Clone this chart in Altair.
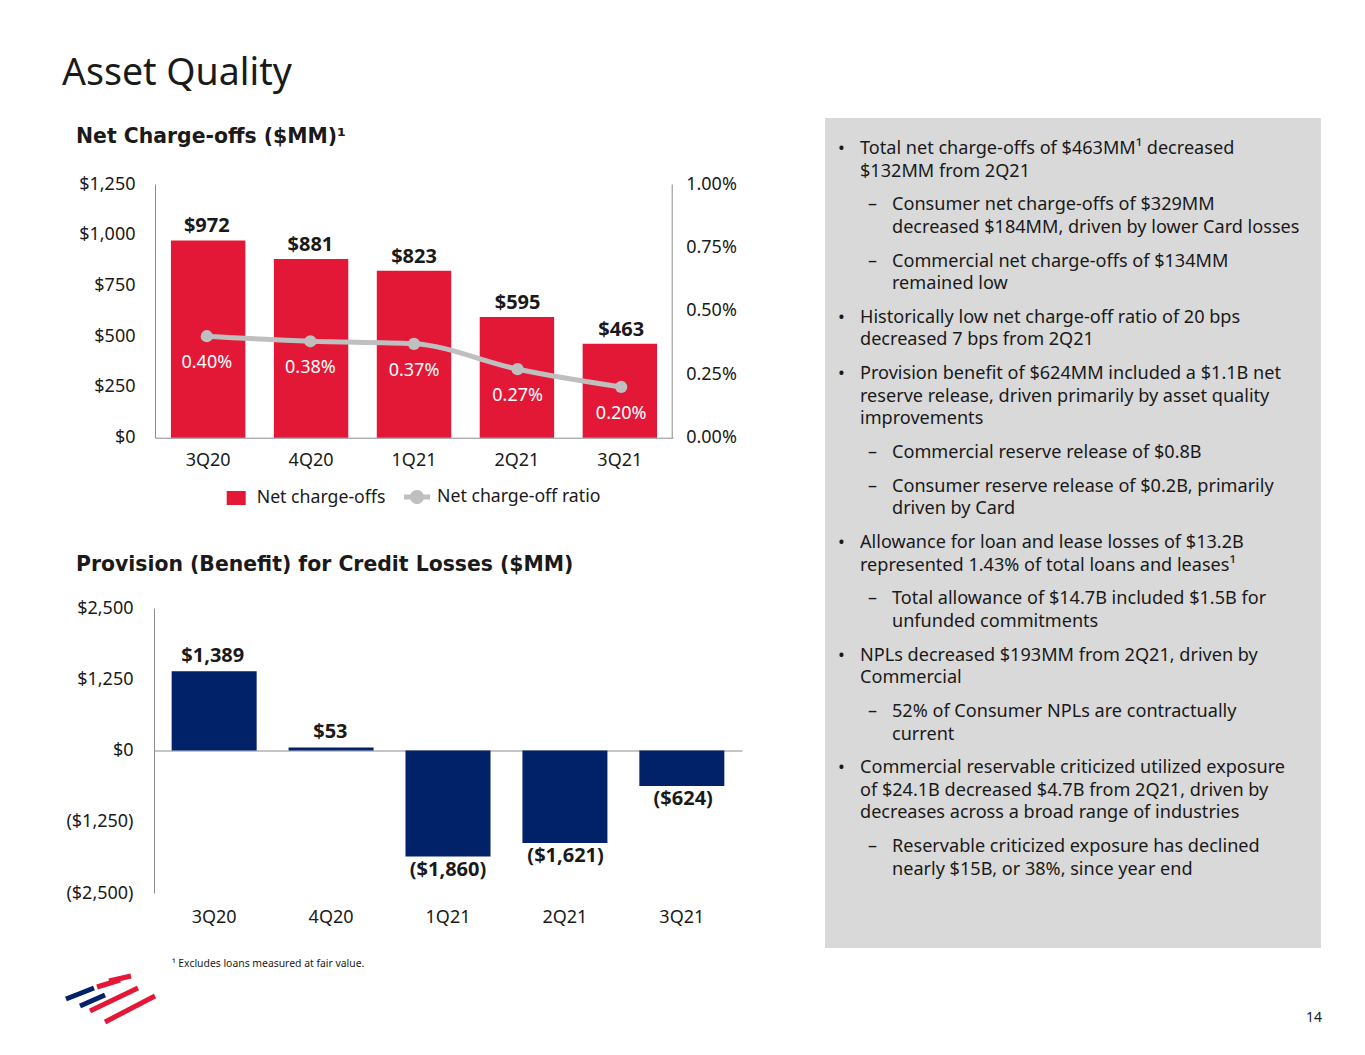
import altair as alt
import pandas as pd

# ---------------- data ----------------
quarters = ["3Q20", "4Q20", "1Q21", "2Q21", "3Q21"]
net_charge_offs = [972, 881, 823, 595, 463]
net_charge_off_ratio = [0.0040, 0.0038, 0.0037, 0.0027, 0.0020]
provision = [1389, 53, -1860, -1621, -624]

nco_ticks = [0, 250, 500, 750, 1000, 1250]
ratio_ticks = [0, 0.0025, 0.005, 0.0075, 0.01]
prov_ticks = [-2500, -1250, 0, 1250, 2500]

slide_title = "Asset Quality"
nco_title = "Net Charge-offs ($MM)¹"
prov_title = "Provision (Benefit) for Credit Losses ($MM)"
legend_labels = ["Net charge-offs", "Net charge-off ratio"]
footnote = "¹ Excludes loans measured at fair value."
page_number = "14"

# (level, lines): level 0 = bullet, level 1 = dash sub-bullet
commentary = [
    (0, ["Total net charge-offs of $463MM¹ decreased", "$132MM from 2Q21"]),
    (1, ["Consumer net charge-offs of $329MM", "decreased $184MM, driven by lower Card losses"]),
    (1, ["Commercial net charge-offs of $134MM", "remained low"]),
    (0, ["Historically low net charge-off ratio of 20 bps", "decreased 7 bps from 2Q21"]),
    (0, ["Provision benefit of $624MM included a $1.1B net",
         "reserve release, driven primarily by asset quality", "improvements"]),
    (1, ["Commercial reserve release of $0.8B"]),
    (1, ["Consumer reserve release of $0.2B, primarily", "driven by Card"]),
    (0, ["Allowance for loan and lease losses of $13.2B",
         "represented 1.43% of total loans and leases¹"]),
    (1, ["Total allowance of $14.7B included $1.5B for", "unfunded commitments"]),
    (0, ["NPLs decreased $193MM from 2Q21, driven by", "Commercial"]),
    (1, ["52% of Consumer NPLs are contractually", "current"]),
    (0, ["Commercial reservable criticized utilized exposure",
         "of $24.1B decreased $4.7B from 2Q21, driven by",
         "decreases across a broad range of industries"]),
    (1, ["Reservable criticized exposure has declined",
         "nearly $15B, or 38%, since year end"]),
]

# ---------------- layout / style ----------------
W, H = 1349, 1039
M = 8  # page margin


def px(x):
    return x - M


def py(y):
    return y - M


FONT = "Noto Sans"
TITLE_FONT = "DejaVu Sans"
TXT = "#1a1a1a"
RED = "#E31837"
NAVY = "#012169"
LINE_GRAY = "#BFBFBF"
AXIS_GRAY = "#8c8c8c"
BOX = "#D9D9D9"

nco_df = pd.DataFrame({"quarter": quarters, "nco": net_charge_offs,
                       "ratio": net_charge_off_ratio})
prov_df = pd.DataFrame({"quarter": quarters, "prov": provision})
one = pd.DataFrame({"k": [0]})

# chart 1 scales
x1 = alt.Scale(domain=quarters, range=[px(155), px(673)],
               paddingInner=0.277, paddingOuter=0.155)
y1 = alt.Scale(domain=[0, 1250], range=[py(437.7), py(184)], nice=False)
y1r = alt.Scale(domain=[0, 0.01], range=[py(437.7), py(184)], nice=False)

# chart 2 scales
x2 = alt.Scale(domain=quarters, range=[px(154), px(742)],
               paddingInner=0.273, paddingOuter=0.151)
y2 = alt.Scale(domain=[-2500, 2500], range=[py(893), py(608)], nice=False)
zero2 = py(893) + (py(608) - py(893)) * 0.5

layers = []

# grey commentary box
layers.append(alt.Chart(one).mark_rect(color=BOX).encode(
    x=alt.value(px(825)), x2=alt.value(px(1321)),
    y=alt.value(py(118)), y2=alt.value(py(948))))

# ---------- chart 1: net charge-offs ----------
X1 = alt.X("quarter:N", scale=x1, axis=None)

layers.append(alt.Chart(nco_df).transform_calculate(series="'Net charge-offs'")
              .mark_bar().encode(
    x=alt.X("quarter:N", scale=x1,
            axis=alt.Axis(orient="bottom", offset=py(437.7) - H, labelPadding=14,
                          labelAngle=0, title=None)),
    y=alt.Y("nco:Q", scale=y1,
            axis=alt.Axis(orient="left", offset=-px(155), values=nco_ticks,
                          format="$,.0f", labelPadding=20, title=None)),
    color=alt.Color("series:N",
                    scale=alt.Scale(domain=[legend_labels[0]], range=[RED]),
                    legend=alt.Legend(orient="none", legendX=px(226.7), legendY=py(488.5),
                                      title=None, symbolType="M-1,-0.74H1V0.74H-1Z",
                                      symbolSize=361, symbolStrokeWidth=0,
                                      labelFont=FONT, labelFontSize=17.7, labelLimit=400,
                                      labelColor=TXT, labelOffset=11, padding=0)),
))

layers.append(alt.Chart(nco_df).mark_text(
    font=FONT, fontWeight="bold", fontSize=20, color=TXT, baseline="alphabetic", dy=-8
).encode(x=X1, y=alt.Y("nco:Q", scale=y1, axis=None),
         text=alt.Text("nco:Q", format="$,.0f")))

layers.append(alt.Chart(nco_df).mark_line(
    color=LINE_GRAY, strokeWidth=5, interpolate="monotone"
).encode(
    x=X1,
    y=alt.Y("ratio:Q", scale=y1r,
            axis=alt.Axis(orient="right", offset=px(671.7) - W, values=ratio_ticks,
                          format=".2%", labelPadding=14, title=None)),
))

layers.append(alt.Chart(nco_df).transform_calculate(series2="'Net charge-off ratio'")
              .mark_circle(size=150, opacity=1).encode(
    x=X1, y=alt.Y("ratio:Q", scale=y1r, axis=None),
    color=alt.Color("series2:N",
                    scale=alt.Scale(domain=[legend_labels[1]], range=[LINE_GRAY]),
                    legend=alt.Legend(orient="none", legendX=px(404), legendY=py(484),
                                      title=None,
                                      symbolType="M-1,-0.19H1V0.19H-1Z M0.54,0A0.54,0.54,0,1,1,-0.54,0A0.54,0.54,0,1,1,0.54,0Z",
                                      symbolSize=676, symbolStrokeWidth=0,
                                      labelFont=FONT, labelFontSize=17.7, labelLimit=400,
                                      labelColor=TXT, labelOffset=7, padding=0)),
))

layers.append(alt.Chart(nco_df).mark_text(
    font=FONT, fontSize=18, color="white", baseline="middle", dy=27
).encode(x=X1, y=alt.Y("ratio:Q", scale=y1r, axis=None),
         text=alt.Text("ratio:Q", format=".2%")))

# ---------- chart 2: provision ----------
X2 = alt.X("quarter:N", scale=x2, axis=None)

layers.append(alt.Chart(prov_df).mark_bar(color=NAVY).encode(
    x=alt.X("quarter:N", scale=x2,
            axis=alt.Axis(orient="bottom", offset=zero2 - H, labelPadding=158,
                          labelAngle=0, title=None)),
    y=alt.Y("prov:Q", scale=y2,
            axis=alt.Axis(orient="left", offset=-px(154), values=prov_ticks,
                          format="($,.0f", labelPadding=21, title=None)),
))

layers.append(alt.Chart(prov_df).transform_filter("datum.prov >= 0").mark_text(
    font=FONT, fontWeight="bold", fontSize=20, color=TXT, baseline="alphabetic", dy=-9
).encode(x=X2, y=alt.Y("prov:Q", scale=y2, axis=None),
         text=alt.Text("prov:Q", format="($,.0f")))

layers.append(alt.Chart(prov_df).transform_filter("datum.prov < 0").mark_text(
    font=FONT, fontWeight="bold", fontSize=20, color=TXT, baseline="top", dy=3
).encode(x=X2, y=alt.Y("prov:Q", scale=y2, axis=None),
         text=alt.Text("prov:Q", format="($,.0f")))

# ---------- slide text ----------
def label(text, x, y, size, weight="normal", font=FONT, align="left", color=TXT):
    return alt.Chart(one).mark_text(
        text=text, font=font, fontSize=size, fontWeight=weight, align=align,
        baseline="alphabetic", color=color
    ).encode(x=alt.value(x), y=alt.value(y))


layers.append(label(slide_title, px(62), py(85), 37.5))
layers.append(label(nco_title, px(76), py(143), 20.4, "bold", TITLE_FONT))
layers.append(label(prov_title, px(76), py(571), 20.4, "bold", TITLE_FONT))
layers.append(label(footnote, px(172), py(967), 10.4))
layers.append(label(page_number, px(1322), py(1022), 14, align="right"))

# commentary bullets
LINE_H = 22.6
PARA_GAP = 33.7
BODY = 18.1
yb = 154.0
for level, lines in commentary:
    mx, tx = (838, 860) if level == 0 else (868, 892)
    marker = "•" if level == 0 else "–"
    layers.append(label(marker, px(mx), py(yb), BODY))
    layers.append(alt.Chart(one).mark_text(
        text=lines, font=FONT, fontSize=BODY, align="left", baseline="alphabetic",
        lineHeight=LINE_H, color=TXT
    ).encode(x=alt.value(px(tx)), y=alt.value(py(yb))))
    yb += (len(lines) - 1) * LINE_H + PARA_GAP

# logo (decorative stripes)
stripes = [
    (66, 999, 94, 988, NAVY), (80, 1006, 105, 995, NAVY),
    (97, 987, 120, 980, RED), (109, 981, 131, 976, RED),
    (90, 1011, 138, 988, RED), (105, 1022, 155, 996, RED),
]
for (xa, ya, xb, yb2, col) in stripes:
    layers.append(alt.Chart(one).mark_rule(color=col, strokeWidth=5).encode(
        x=alt.value(px(xa)), y=alt.value(py(ya)),
        x2=alt.value(px(xb)), y2=alt.value(py(yb2))))

chart = alt.layer(*layers).resolve_scale(
    x="independent", y="independent", color="independent"
).resolve_axis(x="independent", y="independent").resolve_legend(
    color="independent"
).properties(
    width=W, height=H, padding=0, autosize=alt.AutoSizeParams(type="none")
).configure_view(stroke=None).configure_axis(
    labelFont=FONT, labelFontSize=18, labelColor=TXT, ticks=False, grid=False,
    domainColor=AXIS_GRAY, domainWidth=1
)

chart.save("out.html", embed_options={"renderer": "svg", "actions": False})
